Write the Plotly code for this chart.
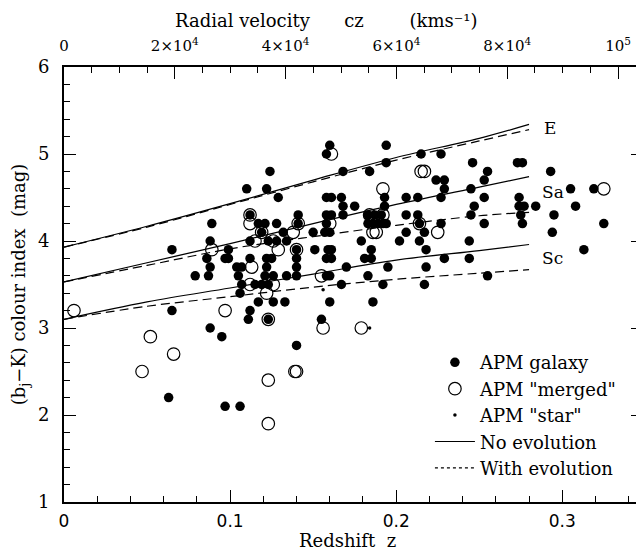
import plotly.graph_objects as go

# ---------------- data ----------------
galaxy_z = [0.063, 0.097, 0.106, 0.140, 0.065, 0.065, 0.079, 0.086, 0.087, 0.088, 0.088, 0.089, 0.088, 0.095,
            0.097, 0.099, 0.099, 0.104, 0.105, 0.106, 0.107, 0.107, 0.110, 0.112, 0.112, 0.112, 0.112, 0.111, 0.117,
            0.160, 0.158, 0.124, 0.168, 0.122, 0.129, 0.158, 0.161, 0.167, 0.168, 0.175, 0.141, 0.158, 0.161, 0.168,
            0.117, 0.121, 0.128, 0.141, 0.158, 0.119, 0.132, 0.150, 0.157, 0.160, 0.123, 0.128, 0.134, 0.179,
            0.140, 0.151, 0.159, 0.161, 0.122, 0.125, 0.140, 0.158, 0.161, 0.181, 0.122, 0.140, 0.170,
            0.121, 0.126, 0.134, 0.140, 0.158, 0.160, 0.115, 0.119, 0.123, 0.167, 0.192, 0.217,
            0.126, 0.133, 0.160, 0.186, 0.123, 0.155,
            0.194, 0.194, 0.215, 0.227, 0.184, 0.224, 0.229, 0.229, 0.193, 0.206, 0.213, 0.227, 0.245, 0.193,
            0.183, 0.187, 0.191, 0.206, 0.213, 0.245, 0.183, 0.186, 0.189, 0.192, 0.194, 0.214, 0.227,
            0.206, 0.217, 0.202, 0.214, 0.244, 0.185, 0.218, 0.185, 0.229, 0.244, 0.195, 0.218, 0.183,
            0.246, 0.273, 0.276, 0.255, 0.293, 0.253, 0.305, 0.253, 0.274, 0.247, 0.274, 0.277, 0.284, 0.308,
            0.275, 0.295, 0.253, 0.276, 0.294, 0.255, 0.313, 0.319, 0.325]
galaxy_c = [2.2, 2.1, 2.1, 2.8, 3.2, 3.9, 3.6, 3.8, 3.6, 4.0, 3.7, 4.2, 3.0, 2.9,
            3.8, 3.8, 3.9, 3.7, 3.6, 3.4, 3.7, 3.5, 4.6, 4.3, 4.0, 3.8, 3.2, 3.1, 3.3,
            5.1, 5.0, 4.8, 4.8, 4.6, 4.5, 4.5, 4.5, 4.5, 4.4, 4.4, 4.3, 4.3, 4.3, 4.3,
            4.2, 4.2, 4.2, 4.2, 4.2, 4.1, 4.1, 4.1, 4.1, 4.1, 4.0, 4.0, 4.0, 4.0,
            3.9, 3.9, 3.9, 3.9, 3.8, 3.8, 3.8, 3.8, 3.8, 3.8, 3.7, 3.7, 3.7,
            3.6, 3.6, 3.6, 3.6, 3.6, 3.6, 3.5, 3.5, 3.5, 3.5, 3.5, 3.5,
            3.3, 3.3, 3.3, 3.3, 3.1, 3.1,
            5.1, 4.9, 5.0, 5.0, 4.8, 4.7, 4.7, 4.6, 4.5, 4.5, 4.5, 4.5, 4.6, 4.4,
            4.3, 4.3, 4.3, 4.3, 4.3, 4.3, 4.2, 4.2, 4.2, 4.2, 4.2, 4.2, 4.2,
            4.1, 4.1, 4.0, 4.0, 4.0, 3.9, 3.9, 3.8, 3.8, 3.8, 3.7, 3.7, 3.6,
            4.9, 4.9, 4.9, 4.8, 4.8, 4.7, 4.6, 4.5, 4.5, 4.4, 4.4, 4.4, 4.4, 4.4,
            4.3, 4.3, 4.2, 4.2, 4.1, 3.6, 3.9, 4.6, 4.2]

merged_z = [0.006, 0.047, 0.052, 0.066, 0.089, 0.097, 0.112, 0.112, 0.113, 0.112, 0.123, 0.123, 0.139, 0.140,
            0.123, 0.122, 0.156, 0.179, 0.161, 0.215, 0.217, 0.192, 0.325, 0.184, 0.192, 0.141, 0.160, 0.214,
            0.119, 0.138, 0.186, 0.188, 0.225, 0.115, 0.126, 0.129, 0.140, 0.155, 0.126]
merged_c = [3.2, 2.5, 2.9, 2.7, 3.9, 3.2, 4.3, 4.2, 3.7, 3.5, 2.4, 1.9, 2.5, 2.5,
            3.1, 3.4, 3.0, 3.0, 5.0, 4.8, 4.8, 4.6, 4.6, 4.3, 4.3, 4.2, 4.2, 4.2,
            4.1, 4.1, 4.1, 4.1, 4.1, 4.0, 4.0, 3.9, 3.9, 3.6, 3.5]

star_z = [0.156, 0.184]
star_c = [3.44, 3.0]

model_z = [0.0, 0.05, 0.10, 0.15, 0.20, 0.25, 0.28]
E_noev = [3.93, 4.17, 4.43, 4.70, 4.96, 5.18, 5.34]
E_ev = [3.93, 4.16, 4.42, 4.68, 4.93, 5.15, 5.28]
Sa_noev = [3.53, 3.75, 3.97, 4.20, 4.42, 4.62, 4.74]
Sa_ev = [3.53, 3.72, 3.91, 4.05, 4.18, 4.29, 4.33]
Sc_noev = [3.10, 3.30, 3.46, 3.62, 3.78, 3.89, 3.96]
Sc_ev = [3.10, 3.25, 3.36, 3.47, 3.56, 3.63, 3.67]

type_labels = ["E", "Sa", "Sc"]
label_z = [0.2875, 0.2865, 0.2865]
label_c = [5.30, 4.56, 3.80]

cz_ticks = [0, 20000, 40000, 60000, 80000, 100000]
cz_ticktext = ["0", "2×10<sup>4</sup>", "4×10<sup>4</sup>", "6×10<sup>4</sup>", "8×10<sup>4</sup>", "10<sup>5</sup>"]

C_LIGHT = 299792.458
Z_MAX = 0.3486

SERIF = "DejaVu Serif"
SANS = "DejaVu Sans"

fig = go.Figure()

for noev, ev in [(E_noev, E_ev), (Sa_noev, Sa_ev), (Sc_noev, Sc_ev)]:
    fig.add_trace(go.Scatter(x=model_z, y=noev, mode="lines", line=dict(color="black", width=1.2, shape="spline"),
                             showlegend=False, hoverinfo="skip"))
    fig.add_trace(go.Scatter(x=model_z, y=ev, mode="lines",
                             line=dict(color="black", width=1.2, dash="9px,5px", shape="spline"),
                             showlegend=False, hoverinfo="skip"))

fig.add_trace(go.Scatter(x=galaxy_z, y=galaxy_c, mode="markers", name="APM galaxy",
                         marker=dict(symbol="circle", size=9.5, color="black", line=dict(width=0)), legendrank=1))
fig.add_trace(go.Scatter(x=merged_z, y=merged_c, mode="markers", name='APM "merged"',
                         marker=dict(symbol="circle-open", size=12.5, color="black", line=dict(width=1.2)),
                         legendrank=2))
fig.add_trace(go.Scatter(x=star_z, y=star_c, mode="markers", name='APM "star"',
                         marker=dict(symbol="circle", size=3.5, color="black"), legendrank=3))
fig.add_trace(go.Scatter(x=[None], y=[None], mode="lines", name="No evolution",
                         line=dict(color="black", width=1.2), legendrank=4))
fig.add_trace(go.Scatter(x=[None], y=[None], mode="lines", name="With evolution",
                         line=dict(color="black", width=1.2, dash="dot"), legendrank=5))
# top axis carrier
fig.add_trace(go.Scatter(x=[None], y=[None], xaxis="x2", mode="markers", showlegend=False, hoverinfo="skip"))

for t, zz, cc in zip(type_labels, label_z, label_c):
    fig.add_annotation(x=zz, y=cc, text=t, showarrow=False, xanchor="left",
                       font=dict(family=SERIF, size=17, color="black"))

# axis titles (placed as in the reference)
fig.add_annotation(xref="paper", yref="paper", x=0.452, y=1.108, xanchor="center", yanchor="middle",
                   text="Radial velocity      cz        (kms⁻¹)", showarrow=False,
                   font=dict(family=SERIF, size=18, color="black"))
fig.add_annotation(xref="paper", yref="paper", x=0.489, y=-0.0874, xanchor="center", yanchor="middle",
                   text="Redshift  z", showarrow=False,
                   font=dict(family=SERIF, size=18, color="black"))

axis_common = dict(showgrid=False, zeroline=False, showline=True, linecolor="black", linewidth=2,
                   ticks="inside", tickcolor="black", tickwidth=1.2, automargin=False)

# the page body has an 8px margin, so the figure is 8px smaller than the window
fig.update_layout(
    width=636, height=544,
    margin=dict(l=56, r=1, t=59, b=50),
    paper_bgcolor="white", plot_bgcolor="white",
    xaxis=dict(range=[0, Z_MAX], tickvals=[0, 0.1, 0.2, 0.3], ticktext=["0", "0.1", "0.2", "0.3"],
               ticklen=12, minor=dict(dtick=0.02, ticks="inside", ticklen=6, tickcolor="black", tickwidth=1.2),
               tickfont=dict(family=SANS, size=17, color="black"), ticklabelstandoff=3,
               **axis_common),
    xaxis2=dict(overlaying="x", side="top", anchor="y", range=[0, Z_MAX * C_LIGHT],
                tickvals=cz_ticks, ticktext=cz_ticktext, ticklen=12,
                minor=dict(dtick=5000, ticks="inside", ticklen=6, tickcolor="black", tickwidth=1.2),
                tickfont=dict(family=SERIF, size=15, color="black"), ticklabelstandoff=8,
                **axis_common),
    yaxis=dict(range=[1, 6], dtick=1, ticklen=12, mirror="ticks",
               minor=dict(dtick=0.2, ticks="inside", ticklen=6, tickcolor="black", tickwidth=1.2),
               tickfont=dict(family=SERIF, size=18, color="black"), ticklabelstandoff=9,
               title=dict(text="(b<sub>j</sub>−K) colour index  (mag)",
                          font=dict(family=SERIF, size=18, color="black"), standoff=10),
               **axis_common),
    legend=dict(x=0.632, y=0.363, xanchor="left", yanchor="top", bgcolor="rgba(0,0,0,0)",
                font=dict(family=SERIF, size=18, color="black"), itemwidth=40, tracegroupgap=0),
    showlegend=True,
)

fig.write_html("out.html")
